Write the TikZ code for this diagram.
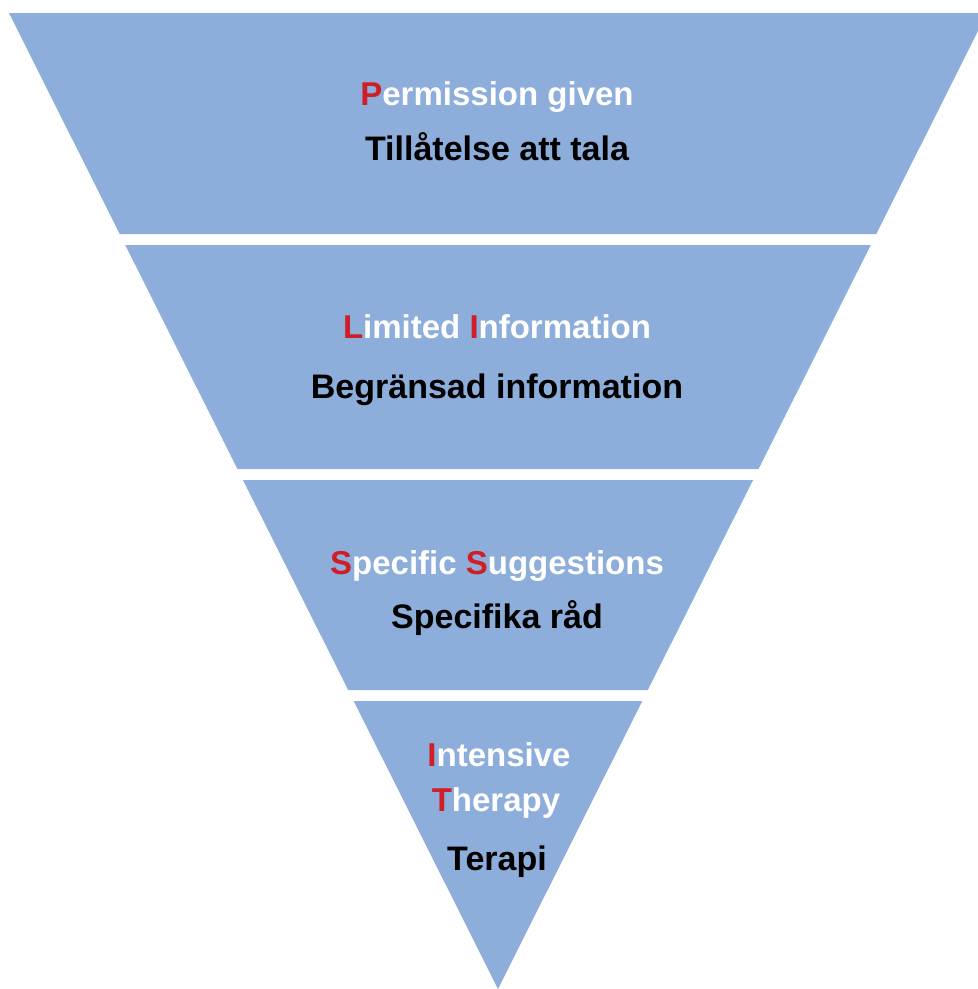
\documentclass[tikz,border=0pt]{standalone}
\usepackage{xcolor}
\usepackage{tikz}
\usepackage{fontspec}
\setmainfont{Liberation Sans}

\definecolor{bandblue}{RGB}{141,173,219}
\definecolor{letterred}{RGB}{208,30,38}
\newcommand{\redletter}[1]{\textcolor{letterred}{#1}}

\begin{document}
\begin{tikzpicture}[x=1pt, y=1pt,
                    eng/.style={anchor=base, text=white, font=\fontsize{33}{45}\selectfont\bfseries},
                    swe/.style={anchor=base, text=black, font=\fontsize{34}{45}\selectfont\bfseries}]
                                \useasboundingbox (0, 0) rectangle (978, -989);
                                \clip (0, 0) rectangle (978, -989);

                                \foreach \ytop/\ybot in {13/234, 245/469, 480/690, 701/989}
                                    \fill[bandblue] ({9+0.501*(\ytop-13)}, -\ytop) -- ({987-0.501*(\ytop-13)}, -\ytop)
                                        -- ({987-0.501*(\ybot-13)}, -\ybot) -- ({9+0.501*(\ybot-13)}, -\ybot) -- cycle;

                                \node (p) at (497, -105) [eng] {\redletter{P}ermission given};
                                \node (ps) at (497, -160) [swe] {Tillåtelse att tala};
                                \node (li) at (497, -338) [eng] {\redletter{L}imited \redletter{I}nformation};
                                \node (lis) at (497, -398) [swe] {Begränsad information};
                                \node (ss) at (497, -574) [eng] {\redletter{S}pecific \redletter{S}uggestions};
                                \node (sss) at (497, -628) [swe] {Specifika råd};
                                \node (it1) at (499, -766) [eng] {\redletter{I}ntensive};
                                \node (it2) at (496, -811) [eng] {\redletter{T}herapy};
                                \node (its) at (497, -870) [swe] {Terapi};
                            \end{tikzpicture}
\end{document}
